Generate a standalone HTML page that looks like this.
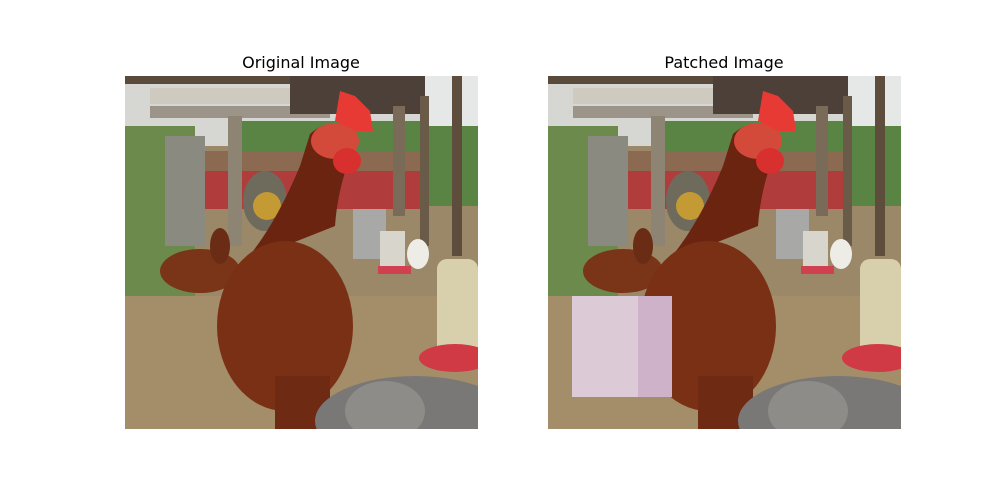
<!DOCTYPE html>
<html><head><meta charset="utf-8"><style>
body{margin:0;background:#fff;width:1000px;height:500px;overflow:hidden}
svg{display:block}
</style></head><body>
<svg width="1000" height="500" viewBox="0 0 1000 500">
<defs>
<clipPath id="c"><rect x="0" y="0" width="353" height="353"/></clipPath>
<g id="scene" clip-path="url(#c)">
  <rect width="353" height="353" fill="#9a8868"/>
  <rect width="353" height="70" fill="#d6d6d2"/>
  <rect x="0" y="0" width="353" height="8" fill="#5a4a3c"/>
  <rect x="25" y="12" width="180" height="16" fill="#cfcac0"/>
  <rect x="25" y="30" width="180" height="12" fill="#9c9488"/>
  <rect x="165" y="0" width="140" height="38" fill="#4c4038"/>
  <rect x="110" y="45" width="243" height="85" fill="#5a8444"/>
  <rect x="300" y="0" width="53" height="50" fill="#e6e8e8"/>
  <rect x="70" y="75" width="230" height="22" fill="#8c6a52"/>
  <rect x="68" y="95" width="232" height="38" fill="#b03c3c"/>
  <ellipse cx="140" cy="125" rx="22" ry="30" fill="#6e6a5c"/>
  <circle cx="142" cy="130" r="14" fill="#c49a34"/>
  <rect x="0" y="50" width="70" height="200" fill="#6c8a4c"/>
  <rect x="40" y="60" width="40" height="110" fill="#8a8a80"/>
  <rect x="0" y="220" width="353" height="133" fill="#a48e6a"/>
  <rect x="103" y="40" width="14" height="130" fill="#8e8474"/>
  <rect x="268" y="30" width="12" height="110" fill="#7a6a58"/>
  <rect x="295" y="20" width="9" height="150" fill="#6a5a48"/>
  <rect x="327" y="0" width="10" height="180" fill="#5e4c3c"/>
  <rect x="228" y="133" width="33" height="50" fill="#a8a8a6"/>
  <rect x="255" y="155" width="25" height="38" fill="#d8d6cc"/>
  <rect x="253" y="190" width="33" height="8" fill="#d04050"/>
  <ellipse cx="293" cy="178" rx="11" ry="15" fill="#eeece6"/>
  <rect x="312" y="183" width="41" height="100" rx="10" fill="#d8d0ac"/>
  <ellipse cx="330" cy="282" rx="36" ry="14" fill="#d03a44"/>
  <ellipse cx="75" cy="195" rx="40" ry="22" fill="#7a3418"/>
  <ellipse cx="95" cy="170" rx="10" ry="18" fill="#6a2c14"/>
  <path d="M185 58 Q205 40 225 55 L222 90 Q212 120 210 150 Q160 170 120 185 Q150 150 175 90 Z" fill="#6a2410"/>
  <ellipse cx="160" cy="250" rx="68" ry="85" fill="#7a3014"/>
  <rect x="150" y="300" width="55" height="60" fill="#6e2a12"/>
  <ellipse cx="210" cy="65" rx="24" ry="18" fill="#d44a3a"/>
  <ellipse cx="222" cy="85" rx="14" ry="13" fill="#d8302e"/>
  <path d="M210 45 L215 15 L230 20 L245 35 L248 55 L230 55 Z" fill="#e83a34"/>
  <ellipse cx="290" cy="345" rx="100" ry="45" fill="#7a7876"/>
  <ellipse cx="260" cy="335" rx="40" ry="30" fill="#8e8c88"/>
</g>
</defs>
<text x="301" y="68" text-anchor="middle" font-family="DejaVu Sans, sans-serif" font-size="16">Original Image</text>
<text x="724" y="68" text-anchor="middle" font-family="DejaVu Sans, sans-serif" font-size="16">Patched Image</text>
<g transform="translate(125,76)"><use href="#scene"/></g>
<g transform="translate(548,76)"><use href="#scene"/>
  <rect x="24" y="220" width="100" height="101" fill="#dccad6"/>
  <rect x="90" y="220" width="34" height="101" fill="#c8a8c4" opacity="0.7"/>
</g>
</svg>
</body></html>
